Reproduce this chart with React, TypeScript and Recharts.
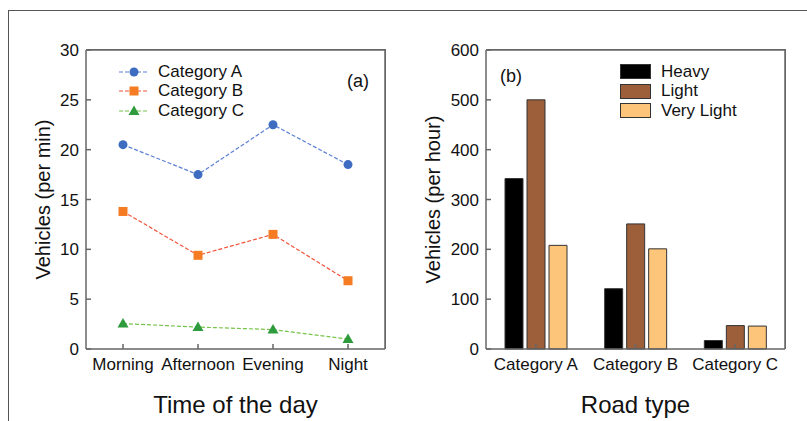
import React from 'react';
import {
  LineChart,
  Line,
  BarChart,
  Bar,
  XAxis,
  YAxis,
  CartesianGrid,
  Legend,
} from 'recharts';

// panel (a)
const times = ['Morning', 'Afternoon', 'Evening', 'Night'];
const categoryA = [20.5, 17.5, 22.5, 18.5];
const categoryB = [13.8, 9.4, 11.5, 6.85];
const categoryC = [2.55, 2.2, 1.95, 1.0];
const minuteTicks = [0, 5, 10, 15, 20, 25, 30];

// panel (b)
const roadTypes = ['Category A', 'Category B', 'Category C'];
const heavy = [342, 121, 17];
const light = [500, 251, 47];
const veryLight = [208, 201, 46];
const hourTicks = [0, 100, 200, 300, 400, 500, 600];

const lineData = times.map((t, i) => ({
  time: t,
  a: categoryA[i],
  b: categoryB[i],
  c: categoryC[i],
}));

const barData = roadTypes.map((r, i) => ({
  road: r,
  heavy: heavy[i],
  light: light[i],
  veryLight: veryLight[i],
}));

const FONT = '"Liberation Sans", Arial, Helvetica, sans-serif';
const AXIS = '#666';

const lineSeries = [
  { key: 'a', name: 'Category A', line: '#5b7fd6', mark: '#3d6cc0', shape: 'circle' },
  { key: 'b', name: 'Category B', line: '#f0533a', mark: '#f57c22', shape: 'square' },
  { key: 'c', name: 'Category C', line: '#77c44a', mark: '#2e9b3c', shape: 'triangle' },
];

const barSeries = [
  { key: 'heavy', name: 'Heavy', fill: '#000000' },
  { key: 'light', name: 'Light', fill: '#9c5f3a' },
  { key: 'veryLight', name: 'Very Light', fill: '#fdc57a' },
];

const tickStyle = { fill: '#111', fontSize: 17, fontFamily: FONT };

// plot box in each panel: x 86..385, y 50..349 (421px tall chart)
const mainMargin = { top: 50, right: 15, bottom: 0, left: 30 };

// top and right sides of the plot box, taken from the chart's own offset
const topEdge = (p: any) => [p && p.offset ? p.offset.top : 50];
const rightEdge = (p: any) => [p && p.offset ? p.offset.left + p.offset.width : 385];

const boxEdge: React.CSSProperties = {
  position: 'absolute',
  left: 86,
  top: 49.25,
  width: 299.75,
  height: 299.75,
  boxSizing: 'border-box',
  borderTop: `1.5px solid ${AXIS}`,
  borderRight: `1.5px solid ${AXIS}`,
  pointerEvents: 'none',
  zIndex: 5,
};

function Marker({ cx, cy, shape, color }: any) {
  if (cx == null || cy == null) return null;
  if (shape === 'circle') return <circle cx={cx} cy={cy} r={4.5} fill={color} />;
  if (shape === 'square') return <rect x={cx - 4.5} y={cy - 4.5} width={9} height={9} fill={color} />;
  return (
    <polygon
      points={`${cx},${cy - 5.5} ${cx + 5.5},${cy + 4} ${cx - 5.5},${cy + 4}`}
      fill={color}
    />
  );
}

function LineLegend() {
  return (
    <div style={{ fontFamily: FONT, fontSize: 17, color: '#111' }}>
      {lineSeries.map((s) => (
        <div key={s.key} style={{ display: 'flex', alignItems: 'center', height: 19.5 }}>
          <svg width={30} height={14} style={{ marginRight: 9 }}>
            <line x1={0} y1={7} x2={30} y2={7} stroke={s.line} strokeWidth={1.2} strokeDasharray="4 2" />
            <Marker cx={15} cy={7} shape={s.shape} color={s.mark} />
          </svg>
          <span>{s.name}</span>
        </div>
      ))}
    </div>
  );
}

function BarLegend() {
  return (
    <div style={{ fontFamily: FONT, fontSize: 17, color: '#111' }}>
      {barSeries.map((s) => (
        <div key={s.key} style={{ display: 'flex', alignItems: 'center', height: 19.5 }}>
          <div
            style={{
              width: 29,
              height: 13,
              background: s.fill,
              border: '1px solid #333',
              marginRight: 10,
            }}
          />
          <span>{s.name}</span>
        </div>
      ))}
    </div>
  );
}

export default function App() {
  return (
    <div
      style={{
        position: 'absolute',
        left: 0,
        top: 0,
        width: 807,
        height: 421,
        background: '#fff',
        fontFamily: FONT,
        overflow: 'hidden',
      }}
    >
      {/* page frame */}
      <div style={{ position: 'absolute', left: 8, top: 10, width: 800, height: 420, borderLeft: '1.5px solid #555', borderTop: '1.5px solid #555' }} />

      {/* panel (a) */}
      <div style={{ position: 'absolute', left: 0, top: 0, width: 400, height: 421 }}>
        <LineChart width={400} height={421} data={lineData} margin={mainMargin}>
          <CartesianGrid
            stroke={AXIS}
            strokeWidth={1.5}
            horizontalCoordinatesGenerator={topEdge}
            verticalCoordinatesGenerator={rightEdge}
          />
          <XAxis
            dataKey="time"
            height={72}
            padding={{ left: 37, right: 37 }}
            stroke={AXIS}
            strokeWidth={1.5}
            tickSize={-5}
            tickMargin={14}
            tick={tickStyle}
            interval={0}
            label={{ value: 'Time of the day', position: 'insideBottom', offset: 8, style: { fontSize: 24, fill: '#111', fontFamily: FONT } }}
          />
          <YAxis
            width={56}
            domain={[0, 30]}
            ticks={minuteTicks}
            stroke={AXIS}
            strokeWidth={1.5}
            tickSize={-5}
            tickMargin={12}
            tick={tickStyle}
            label={{ value: 'Vehicles (per min)', angle: -90, position: 'insideLeft', offset: 13, style: { textAnchor: 'middle', fontSize: 20, fill: '#111', fontFamily: FONT } }}
          />
          <Legend
            layout="horizontal"
            verticalAlign="middle"
            align="center"
            content={() => <LineLegend />}
            wrapperStyle={{ position: 'absolute', left: 119, top: 62, width: 170, height: 60 }}
          />
          {lineSeries.map((s) => (
            <Line
              key={s.key}
              dataKey={s.key}
              name={s.name}
              type="linear"
              stroke={s.line}
              strokeWidth={1.2}
              strokeDasharray="4 2"
              dot={(p: any) => <Marker key={p.index} cx={p.cx} cy={p.cy} shape={s.shape} color={s.mark} />}
              activeDot={false}
              isAnimationActive={false}
            />
          ))}
        </LineChart>
        <div style={boxEdge} />
        <div style={{ position: 'absolute', left: 347, top: 71, fontSize: 18, color: '#111' }}>(a)</div>
      </div>

      {/* panel (b) */}
      <div style={{ position: 'absolute', left: 400, top: 0, width: 407, height: 421 }}>
        <BarChart
          width={407}
          height={421}
          data={barData}
          margin={{ ...mainMargin, right: 22 }}
          barCategoryGap={19}
          barGap={4}
        >
          <CartesianGrid
            stroke={AXIS}
            strokeWidth={1.5}
            horizontalCoordinatesGenerator={topEdge}
            verticalCoordinatesGenerator={rightEdge}
          />
          <XAxis
            dataKey="road"
            height={72}
            stroke={AXIS}
            strokeWidth={1.5}
            tickSize={-5}
            tickMargin={14}
            tick={tickStyle}
            interval={0}
            label={{ value: 'Road type', position: 'insideBottom', offset: 8, style: { fontSize: 24, fill: '#111', fontFamily: FONT } }}
          />
          <YAxis
            width={56}
            domain={[0, 600]}
            ticks={hourTicks}
            stroke={AXIS}
            strokeWidth={1.5}
            tickSize={-5}
            tickMargin={12}
            tick={tickStyle}
            label={{ value: 'Vehicles (per hour)', angle: -90, position: 'insideLeft', offset: 3, style: { textAnchor: 'middle', fontSize: 20, fill: '#111', fontFamily: FONT } }}
          />
          <Legend
            layout="horizontal"
            verticalAlign="middle"
            align="center"
            content={() => <BarLegend />}
            wrapperStyle={{ position: 'absolute', left: 220, top: 62, width: 170, height: 60 }}
          />
          {barSeries.map((s) => (
            <Bar
              key={s.key}
              dataKey={s.key}
              name={s.name}
              fill={s.fill}
              stroke="#333"
              strokeWidth={1}
              isAnimationActive={false}
            />
          ))}
        </BarChart>
        <div style={boxEdge} />
        <div style={{ position: 'absolute', left: 100, top: 66, fontSize: 18, color: '#111' }}>(b)</div>
      </div>
    </div>
  );
}
